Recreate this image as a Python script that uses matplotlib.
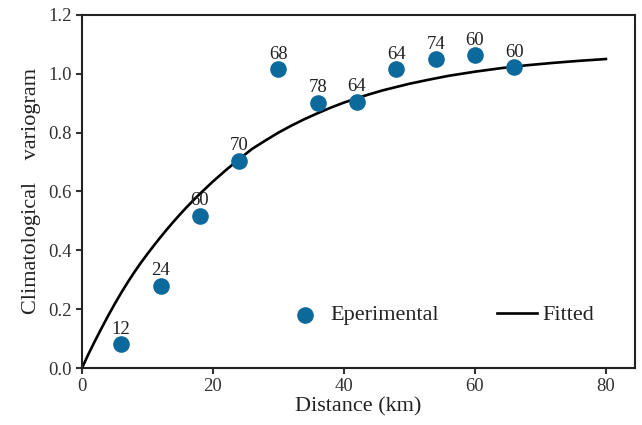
import matplotlib
matplotlib.use("Agg")
import matplotlib.pyplot as plt

# experimental variogram (lag distance in km, value, number of pairs)
lag_km = [6, 12, 18, 24, 30, 36, 42, 48, 54, 60, 66]
gamma_exp = [0.082, 0.280, 0.518, 0.705, 1.016, 0.902, 0.905, 1.015, 1.049, 1.062, 1.022]
pair_counts = ["12", "24", "60", "70", "68", "78", "64", "64", "74", "60", "60"]

# fitted curve
fit_km = [0, 1, 2, 3, 4, 5, 6, 7, 8, 9, 10, 11, 12, 13, 14, 15, 16, 17, 18, 19, 20, 22, 24, 26, 28,
          30, 32, 34, 36, 38, 40, 42, 44, 46, 48, 50, 53, 56, 60, 64, 68, 72, 76, 80]
gamma_fit = [0.0, 0.048, 0.093, 0.136, 0.178, 0.218, 0.256, 0.292, 0.326, 0.358, 0.388, 0.417,
             0.445, 0.472, 0.498, 0.523, 0.547, 0.570, 0.592, 0.613, 0.634, 0.673, 0.710, 0.745,
             0.773, 0.800, 0.824, 0.846, 0.866, 0.885, 0.902, 0.917, 0.931, 0.944, 0.955, 0.966,
             0.980, 0.993, 1.007, 1.019, 1.029, 1.037, 1.044, 1.050]

DOT = "#0b6a9b"


def main():
    plt.rcParams["font.family"] = ["Liberation Serif", "DejaVu Serif"]
    fig = plt.figure(figsize=(6.42, 4.25), dpi=100)
    ax = fig.add_axes([0.1277, 0.134, 0.861, 0.831])

    ax.plot(fit_km, gamma_fit, color="black", lw=1.9, label="Fitted", zorder=2)
    ax.scatter(lag_km, gamma_exp, s=120, color=DOT, label="Eperimental", zorder=3)

    for x, y, n in zip(lag_km, gamma_exp, pair_counts):
        ax.annotate(n, (x, y), xytext=(0, 4.5), textcoords="offset points",
                    ha="center", va="bottom", fontsize=13.5, color="#222222")

    ax.set_xlim(0, 84.4)
    ax.set_ylim(0, 1.2)
    ax.set_xticks([0, 20, 40, 60, 80])
    ax.set_yticks([0.0, 0.2, 0.4, 0.6, 0.8, 1.0, 1.2])
    ax.set_yticklabels(["0.0", "0.2", "0.4", "0.6", "0.8", "1.0", "1.2"])
    ax.tick_params(direction="out", length=4, width=1.5, labelsize=13.5, colors="#333333")

    for sp in ax.spines.values():
        sp.set_linewidth(1.5)
        sp.set_color("#222222")

    ax.set_xlabel("Distance (km)", fontsize=16, color="#222222", labelpad=1)
    ax.set_ylabel("Climatological    variogram", fontsize=16, color="#222222", labelpad=5)

    handles, labels = ax.get_legend_handles_labels()
    ax.legend(handles[::-1], labels[::-1], ncol=2, frameon=False, fontsize=16,
              loc="center", bbox_to_anchor=(0.647, 0.15), handlelength=1.8,
              handletextpad=0.25, columnspacing=2.6, labelcolor="#222222")

    fig.savefig("out.png", dpi=100)


if __name__ == "__main__":
    main()
